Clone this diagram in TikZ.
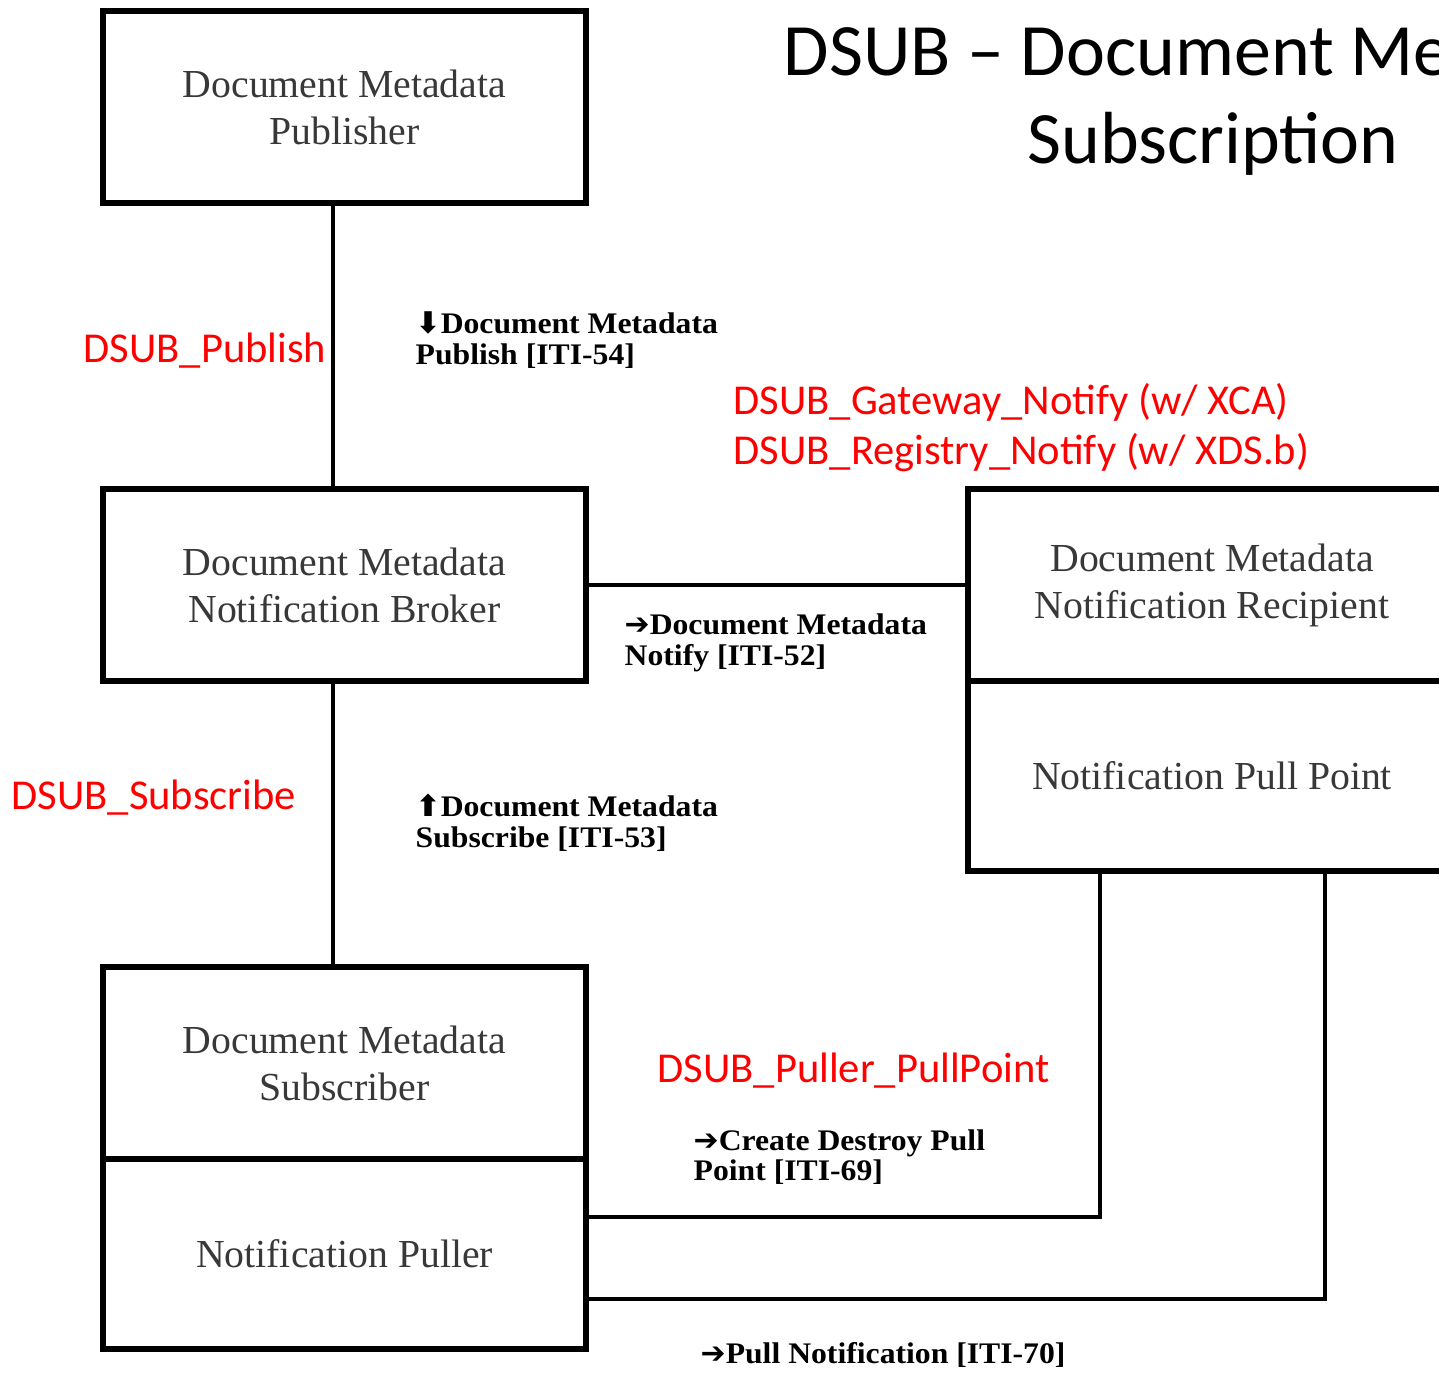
\documentclass[tikz,border=0pt]{standalone}
\usepackage{fontspec}
\setmainfont{Liberation Serif}
\newfontfamily\calibri{Carlito}
\newfontfamily\lblfont[FakeStretch=1.06]{Liberation Serif}
\newfontfamily\arrfont{DejaVu Sans}
\definecolor{dsubred}{RGB}{255,0,0}
\begin{document}
\begin{tikzpicture}[x=0.01cm,y=-0.01cm,line join=miter,
					box/.style={draw,line width=1.7pt,minimum width=4.83cm,minimum height=1.92cm,align=center,text=black!78,font=\fontsize{11.3}{13.4}\selectfont},
					msg/.style={anchor=west,align=left,inner sep=0pt,font=\lblfont\bfseries\fontsize{8.5}{8.7}\selectfont},
					tag/.style={anchor=west,inner sep=0pt,text=dsubred,font=\calibri\fontsize{12.1}{14}\selectfont},
					link/.style={line width=1.15pt}]
					\def\ar#1{{\arrfont\bfseries#1}}
					\useasboundingbox (0,0) rectangle (1439,1372);
					\clip (0,0) rectangle (1439,1372);
					% actors
					\node [box] (pub) at (344.5,107) {Document Metadata\\Publisher};
					\node [box] (brk) at (344.5,585) {Document Metadata\\Notification Broker};
					\node [box] (sub) at (344.5,1063) {Document Metadata\\Subscriber};
					\node [box,minimum height=1.90cm] (pul) at (344.5,1254) {Notification Puller};
					\node [box,minimum width=4.88cm] (rcp) at (1212,585) {Document Metadata\\Notification Recipient};
					\node [box,minimum width=4.88cm,minimum height=1.90cm] (ppt) at (1212,776) {Notification Pull Point};
					% transactions
					\draw [link] ([xshift=-0.115cm]pub.south) -- ([xshift=-0.115cm]brk.north);
					\draw [link] ([xshift=-0.115cm]brk.south) -- ([xshift=-0.115cm]sub.north);
					\draw [link] (brk.east) -- (rcp.west);
					\draw [link] ([xshift=-1.12cm]ppt.south) |- ([yshift=0.37cm]pul.east);
					\draw [link] ([xshift=1.13cm]ppt.south) |- ([yshift=-0.45cm]pul.east);
					\node [msg] (m54) at (415,340) {\ar{⬇}Document Metadata\\Publish [ITI-54]};
					\node [msg] (m52) at (624,643) {\ar{➔}Document Metadata\\Notify [ITI-52]};
					\node [msg] (m53) at (415,823) {\ar{⬆}Document Metadata\\Subscribe [ITI-53]};
					\node [msg] (m69) at (693,1157) {\ar{➔}Create Destroy Pull\\Point [ITI-69]};
					\node [msg] (m70) at (700,1355) {\ar{➔}Pull Notification [ITI-70]};
					% options
					\node [tag] (tpub) at (83,351) {DSUB\_Publish};
					\node [tag] (tgw) at (733,402) {DSUB\_Gateway\_Notify (w/ XCA)};
					\node [tag] (treg) at (733,453) {DSUB\_Registry\_Notify (w/ XDS.b)};
					\node [tag] (tsub) at (11,798) {DSUB\_Subscribe};
					\node [tag] (tpp) at (657,1071) {DSUB\_Puller\_PullPoint};
					\node [align=center,inner sep=0pt,font=\calibri\fontsize{21}{25}\selectfont] (title) at (1213,100) {DSUB – Document Metadata\\Subscription};
				\end{tikzpicture}
\end{document}
